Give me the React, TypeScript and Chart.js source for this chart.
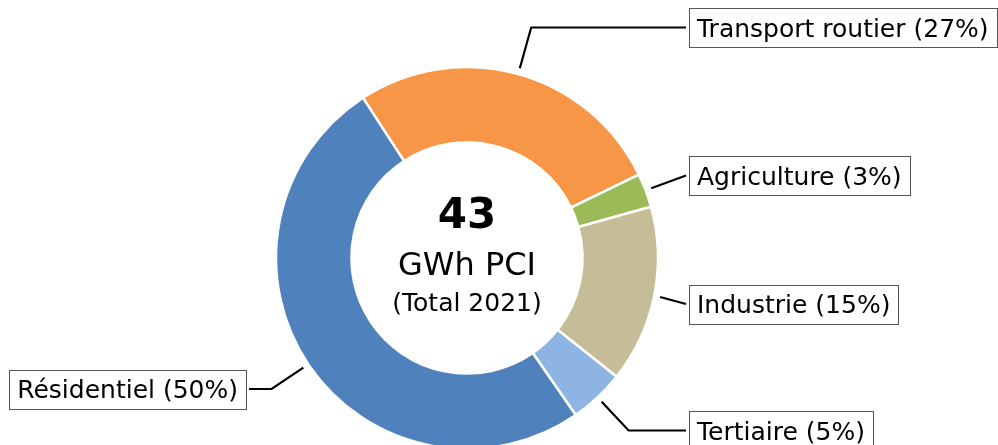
import React, { useEffect, useRef } from "react";
import { Chart, registerables } from "chart.js";

Chart.register(...registerables);

// Data
const categories = ["Transport routier", "Agriculture", "Industrie", "Tertiaire", "Résidentiel"];
const valuesGWh = [11.6, 1.23, 6.45, 2.02, 21.7];
const sliceColors = ["#F79646", "#9BBB59", "#C4BD97", "#8EB4E3", "#4F81BD"];
const centerUnit = "GWh PCI";
const centerSubtitle = "(Total 2021)";

// Label layout (side and vertical centre of each label box)
const labelSide = ["right", "right", "right", "right", "left"];
const labelCenterY = [27.5, 175.5, 304, 430.5, 389];

const FONT = "'DejaVu Sans', sans-serif";

const labelsPlugin = {
  id: "donutLabels",
  afterDraw(chart: any) {
    const ctx = chart.ctx;
    const meta = chart.getDatasetMeta(0);
    const data = chart.data.datasets[0].data as number[];
    const total = data.reduce((a, b) => a + b, 0);
    ctx.save();
    meta.data.forEach((arc: any, i: number) => {
      const { x, y, startAngle, endAngle, outerRadius } = arc.getProps(
        ["x", "y", "startAngle", "endAngle", "outerRadius"],
        true
      );
      const a = (startAngle + endAngle) / 2;
      const r0 = outerRadius + 6;
      const sx = x + r0 * Math.cos(a);
      const sy = y + r0 * Math.sin(a);
      const by = labelCenterY[i];
      const t = (by - y) / Math.sin(a);
      const ex = x + t * Math.cos(a);
      const ey = by;
      const pct = Math.round((data[i] / total) * 100);
      const text = `${chart.data.labels[i]} (${pct}%)`;
      ctx.font = `25px ${FONT}`;
      const tw = ctx.measureText(text).width;
      const padX = 8;
      const boxW = tw + padX * 2;
      const boxH = 39;
      let boxX: number;
      let lineEndX: number;
      if (labelSide[i] === "right") {
        boxX = 689;
        lineEndX = boxX - 3;
      } else {
        boxX = 246 - boxW;
        lineEndX = 246 + 3;
      }
      ctx.strokeStyle = "#000";
      ctx.lineWidth = 2.2;
      ctx.lineJoin = "miter";
      ctx.beginPath();
      ctx.moveTo(sx, sy);
      if (Math.abs(lineEndX - ex) > 6 && (labelSide[i] === "right" ? ex < lineEndX : ex > lineEndX)) {
        ctx.lineTo(ex, ey);
      }
      ctx.lineTo(lineEndX, ey);
      ctx.stroke();
      ctx.fillStyle = "#fff";
      ctx.fillRect(boxX, by - boxH / 2, boxW, boxH);
      ctx.strokeStyle = "#555";
      ctx.lineWidth = 1;
      ctx.strokeRect(Math.round(boxX) + 0.5, Math.round(by - boxH / 2) + 0.5, Math.round(boxW), boxH);
      ctx.fillStyle = "#000";
      ctx.textBaseline = "alphabetic";
      ctx.textAlign = "left";
      ctx.fillText(text, boxX + padX, by + 9);
    });

    const cx = meta.data[0].x;
    const cy = meta.data[0].y;
    ctx.fillStyle = "#000";
    ctx.textAlign = "center";
    ctx.textBaseline = "alphabetic";
    ctx.font = `bold 42px ${FONT}`;
    ctx.fillText(String(Math.round(total)), cx, cy - 30);
    ctx.font = `32px ${FONT}`;
    ctx.fillText(centerUnit, cx, cy + 17);
    ctx.font = `25px ${FONT}`;
    ctx.fillText(centerSubtitle, cx, cy + 53);
    ctx.restore();
  },
};

export default function App() {
  const ref = useRef<HTMLCanvasElement | null>(null);
  useEffect(() => {
    if (!ref.current) return;
    const chart = new Chart(ref.current, {
      type: "doughnut",
      data: {
        labels: categories,
        datasets: [
          {
            data: valuesGWh,
            backgroundColor: sliceColors,
            borderColor: "#fff",
            borderWidth: 2.5,
            hoverOffset: 0,
          },
        ],
      },
      options: {
        animation: false,
        responsive: false,
        devicePixelRatio: 1,
        rotation: -33,
        radius: 191,
        cutout: "60.5%",
        layout: { padding: { left: 209, right: 273, top: 0, bottom: 0 } },
        plugins: {
          legend: { display: false },
          tooltip: { enabled: false },
        },
        events: [],
      },
      plugins: [labelsPlugin],
    });
    return () => chart.destroy();
  }, []);
  return (
    <div style={{ position: "absolute", left: 0, top: 0, width: 998, height: 516, background: "#fff" }}>
      <canvas ref={ref} width={998} height={516} style={{ width: 998, height: 516 }} />
    </div>
  );
}
